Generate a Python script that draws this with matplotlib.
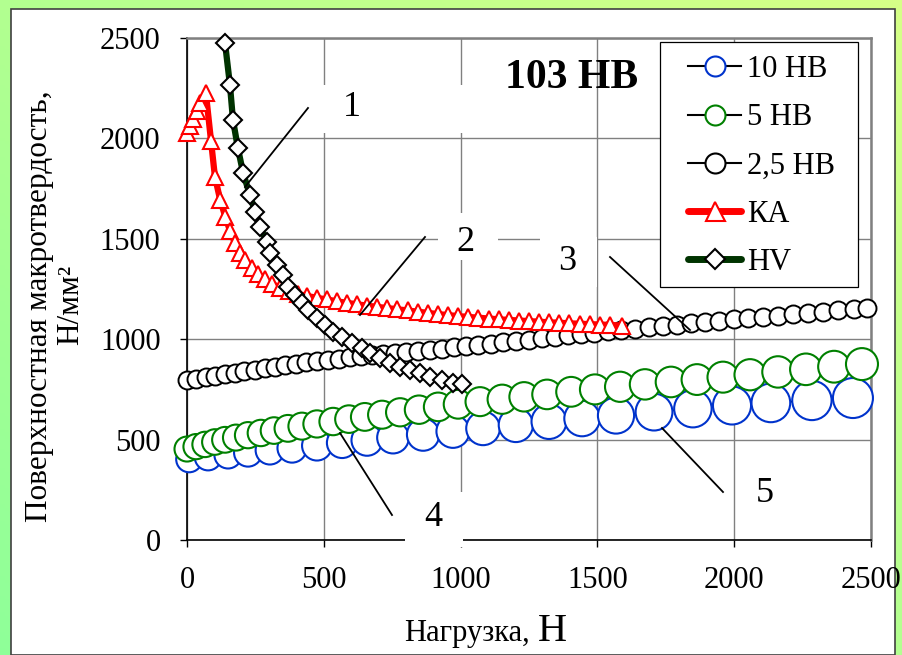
import numpy as np
import matplotlib
matplotlib.use('Agg')
import matplotlib.pyplot as plt
from matplotlib.patches import Rectangle
from matplotlib.lines import Line2D

plt.rcParams['font.family'] = ['Liberation Serif', 'DejaVu Serif']

# ---------------- data ----------------
load_10hb = [8, 77, 150, 223, 303, 384, 475, 567, 658, 753, 863, 972, 1082, 1202, 1323,
             1444, 1568, 1707, 1849, 1992, 2134, 2284, 2434]
hard_10hb = [402, 413, 424, 435, 447, 458, 470, 484, 497, 510, 525, 541, 556, 573, 590,
             605, 620, 637, 654, 670, 683, 695, 707]

load_5hb = [0, 33, 66, 102, 139, 179, 223, 270, 318, 369, 420, 475, 534, 592, 650, 713,
            779, 848, 918, 991, 1071, 1152, 1232, 1316, 1404, 1491, 1583, 1674, 1769, 1864,
            1959, 2058, 2160, 2262, 2365, 2467]
hard_5hb = [453, 465, 476, 488, 499, 510, 522, 533, 545, 556, 567, 578, 590, 602, 613, 624,
            636, 649, 663, 676, 689, 701, 713, 725, 738, 750, 763, 775, 787, 799,
            811, 823, 837, 850, 863, 876]

load_25hb = [0, 34, 68, 103, 138, 174, 210, 247, 284, 321, 359, 397, 436, 475, 514, 554,
             594, 635, 676, 718, 760, 802, 845, 888, 932, 976, 1020, 1065, 1111, 1156,
             1203, 1249, 1296, 1344, 1392, 1440, 1489, 1538, 1587, 1637, 1688, 1738, 1790,
             1841, 1893, 1946, 1999, 2052, 2106, 2160, 2215, 2270, 2325, 2381, 2437, 2485]
hard_25hb = [797, 804, 811, 818, 825, 833, 841, 848, 856, 863, 870, 877, 885, 892, 898, 903,
             909, 914, 920, 925, 931, 936, 942, 947, 953, 959, 965, 971, 978, 985,
             992, 998, 1005, 1012, 1019, 1026, 1033, 1040, 1046, 1053, 1059, 1066, 1073,
             1079, 1086, 1093, 1100, 1106, 1112, 1118, 1124, 1131, 1137, 1143, 1149, 1155]

load_ka = [0, 11, 22, 37, 48, 69, 88, 102, 121, 140, 157, 175, 194, 212, 237, 259, 285, 311,
           340, 373, 405, 440, 475, 510, 547, 584, 621, 658, 695, 732, 769, 806, 843, 880,
           917, 954, 991, 1028, 1065, 1102, 1139, 1176, 1213, 1250, 1287, 1324, 1361, 1398,
           1435, 1472, 1509, 1546, 1590]
hard_ka = [2025, 2060, 2095, 2135, 2175, 2225, 1985, 1810, 1695, 1610, 1540, 1480, 1430, 1395,
           1355, 1325, 1298, 1275, 1257, 1240, 1226, 1215, 1206, 1198, 1189, 1181, 1174, 1167,
           1161, 1155, 1149, 1143, 1137, 1131, 1125, 1120, 1115, 1111, 1107, 1103, 1099, 1096,
           1093, 1090, 1087, 1084, 1082, 1079, 1077, 1075, 1073, 1071, 1068]

load_hv = [139, 157, 168, 186, 205, 230, 249, 267, 292, 303, 329, 351, 369, 395, 420, 442,
           475, 504, 534, 567, 603, 640, 669, 705, 742, 778, 815, 852, 888, 932, 972, 1005]
hard_hv = [2475, 2266, 2092, 1952, 1828, 1718, 1633, 1559, 1484, 1429, 1370, 1320, 1260, 1220,
           1180, 1145, 1106, 1071, 1036, 1011, 981, 956, 931, 906, 881, 862, 847, 832, 812,
           797, 782, 777]

series_labels = ['10 HB', '5 HB', '2,5 HB', 'КА', 'HV']
x_ticks = [0, 500, 1000, 1500, 2000, 2500]
y_ticks = [0, 500, 1000, 1500, 2000, 2500]
title_text = '103 HB'
x_label_main = 'Нагрузка,'
x_label_unit = 'Н'
y_label_1 = 'Поверхностная макротвердость,'
y_label_2 = 'Н/мм²'
callouts = ['1', '2', '3', '4', '5']

# ---------------- styling ----------------
W, H = 902, 655
BLUE = '#0033CC'
GREEN = '#008000'
RED = '#FF0000'
DKGREEN = '#003300'


def fx(px):
    return px / W


def fy(py):
    return 1 - py / H


def pts(px):
    return px * 0.72


fig = plt.figure(figsize=(W / 100, H / 100), dpi=100)

# gradient background
bg = fig.add_axes([0, 0, 1, 1], zorder=-10)
yy, xx = np.mgrid[0:1:200j, 0:1:200j]
t = ((1 - xx) + yy) / 2
c0 = np.array([0.84, 1.0, 0.53])
c1 = np.array([0.56, 1.0, 0.60])
img = c0[None, None, :] * (1 - t[..., None]) + c1[None, None, :] * t[..., None]
bg.imshow(img, aspect='auto', extent=[0, 1, 0, 1], origin='upper')
bg.set_xlim(0, 1)
bg.set_ylim(0, 1)
bg.axis('off')
bg.add_patch(Rectangle((fx(11), 0), fx(895) - fx(11), fy(9), facecolor='white',
                       edgecolor='#404040', lw=1.2, transform=bg.transAxes))

ax = fig.add_axes([fx(187), fy(540), fx(871) - fx(187), fy(38) - fy(540)])
ax.patch.set_alpha(0)
ax.set_xlim(0, 2500)
ax.set_ylim(0, 2500)
ax.set_xticks(x_ticks)
ax.set_yticks(y_ticks)
ax.set_xticklabels([str(v) for v in x_ticks])
ax.set_yticklabels([str(v) for v in y_ticks])
ax.tick_params(direction='out', length=5, width=1.0, labelsize=22, pad=14, colors='black')
ax.set_axisbelow(True)
ax.grid(True, color='#808080', lw=1.0)
for s in ['left', 'bottom']:
    ax.spines[s].set_color('black')
    ax.spines[s].set_linewidth(1.2)
for s in ['top', 'right']:
    ax.spines[s].set_color('#808080')
    ax.spines[s].set_linewidth(1.8)

# 10 HB
sz_blue = (pts(np.linspace(26, 40, len(load_10hb)))) ** 2
ax.plot(load_10hb, hard_10hb, color='black', lw=1.2, zorder=3, clip_on=False)
ax.scatter(load_10hb, hard_10hb, s=sz_blue, facecolors='white', edgecolors=BLUE,
           linewidths=1.5, zorder=3.1, clip_on=False)
# 5 HB
sz_green = (pts(np.linspace(25, 32, len(load_5hb)))) ** 2
ax.plot(load_5hb, hard_5hb, color='black', lw=1.2, zorder=3.2, clip_on=False)
ax.scatter(load_5hb, hard_5hb, s=sz_green, facecolors='white', edgecolors=GREEN,
           linewidths=1.5, zorder=3.3, clip_on=False)
# 2,5 HB
ax.plot(load_25hb, hard_25hb, color='black', lw=1.2, zorder=3.4, clip_on=False)
ax.scatter(load_25hb, hard_25hb, s=pts(18) ** 2, facecolors='white', edgecolors='black',
           linewidths=1.4, zorder=3.5, clip_on=False)
# KA
ax.plot(load_ka, hard_ka, color=RED, lw=4.5, solid_capstyle='round', zorder=3.6, clip_on=False)
ax.plot(load_ka, hard_ka, ls='none', marker='^', ms=pts(16), mfc='white', mec=RED, mew=1.5,
        zorder=3.7, clip_on=False)
# HV
ax.plot(load_hv, hard_hv, color=DKGREEN, lw=4.5, solid_capstyle='round', zorder=3.8, clip_on=False)
ax.plot(load_hv, hard_hv, ls='none', marker='D', ms=pts(12.5), mfc='white', mec='black', mew=1.5,
        zorder=3.9, clip_on=False)

# white label boxes (hide gridlines)
boxes = [(318, 85, 148, 48), (438, 213, 60, 47), (540, 237, 57, 50), (405, 492, 58, 55),
         (740, 470, 50, 50)]
for (bx, by, bw, bh) in boxes:
    ax.add_artist(Rectangle((fx(bx), fy(by + bh)), bw / W, bh / H, facecolor='white',
                            edgecolor='none', transform=fig.transFigure, clip_on=False,
                            zorder=2.7))

# leader lines
leaders = [((308, 108), (245, 187)), ((425, 237), (360, 315)), ((610, 257), (690, 330)),
           ((392, 515), (340, 433)), ((723, 492), (662, 428))]
for (p0, p1) in leaders:
    fig.add_artist(Line2D([fx(p0[0]), fx(p1[0])], [fy(p0[1]), fy(p1[1])], color='black',
                          lw=1.3, transform=fig.transFigure, zorder=6))

label_pos = [(352, 108), (465, 243), (567, 262), (433, 518), (765, 494)]
for txt, (lx, ly) in zip(callouts, label_pos):
    fig.text(fx(lx), fy(ly), txt, fontsize=26, ha='center', va='center', zorder=7)

fig.text(fx(572), fy(78), title_text, fontsize=30, fontweight='bold', ha='center', va='center')

# axis labels
fig.text(fx(530), fy(641), x_label_main, fontsize=22, ha='right', va='baseline')
fig.text(fx(538), fy(641), x_label_unit, fontsize=29, ha='left', va='baseline')
fig.text(fx(40), fy(306), y_label_1, fontsize=22.5, rotation=90, ha='center', va='center')
fig.text(fx(71), fy(305), y_label_2, fontsize=22.5, rotation=90, ha='center', va='center')

# legend
fig.add_artist(Rectangle((fx(660), fy(287)), (858 - 660) / W, (287 - 42) / H, facecolor='white',
                         edgecolor='black', lw=0.9, transform=fig.transFigure, zorder=4))
handles = [
    Line2D([], [], color='black', lw=1.5, marker='o', ms=pts(20), mfc='white', mec=BLUE, mew=1.5),
    Line2D([], [], color='black', lw=1.5, marker='o', ms=pts(20), mfc='white', mec=GREEN, mew=1.5),
    Line2D([], [], color='black', lw=1.5, marker='o', ms=pts(20), mfc='white', mec='black', mew=1.5),
    Line2D([], [], color=RED, lw=5, solid_capstyle='round', marker='^', ms=pts(19), mfc='white',
           mec=RED, mew=1.5),
    Line2D([], [], color=DKGREEN, lw=5, solid_capstyle='round', marker='D', ms=pts(13.5),
           mfc='white', mec='black', mew=1.5),
]
leg = fig.legend(handles, series_labels, loc='upper left', bbox_to_anchor=(fx(688), fy(55)),
                 fontsize=22, frameon=False, handlelength=1.75, handletextpad=0.18,
                 labelspacing=0.63, borderpad=0, borderaxespad=0)
leg.set_zorder(5)

fig.savefig('out.png', dpi=100)
